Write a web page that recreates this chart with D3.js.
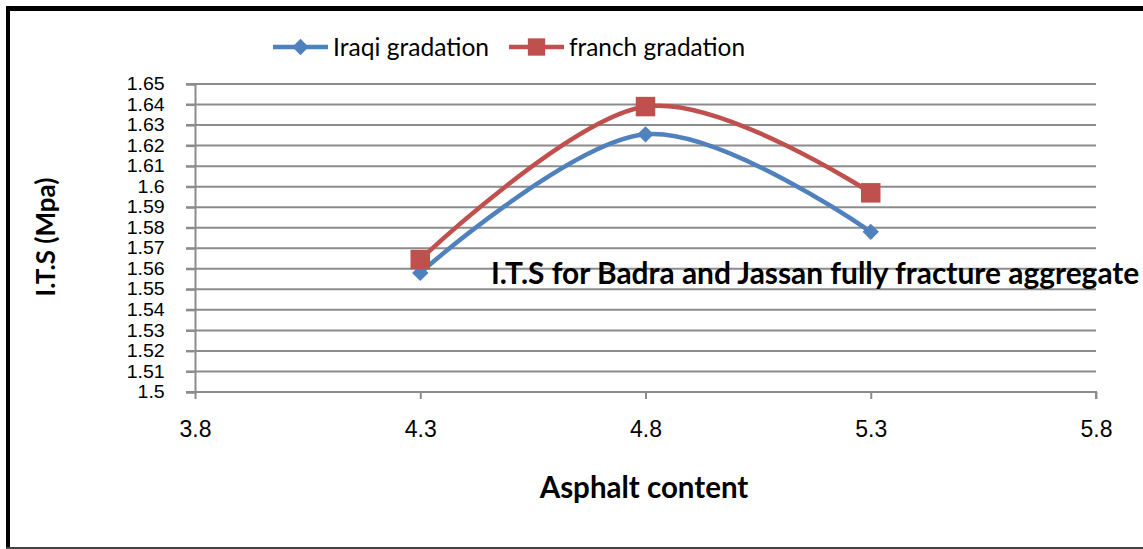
<!DOCTYPE html>
<html>
<head>
<meta charset="utf-8">
<script src="https://cdnjs.cloudflare.com/ajax/libs/d3/7.8.5/d3.min.js"></script>
<style>
  body { margin: 0; background: #fff; }
</style>
</head>
<body>
<div id="chart"></div>
<script>
// data
var asphalt = [4.3, 4.8, 5.3];
var iraqi = [1.558, 1.6255, 1.578];
var franch = [1.5645, 1.639, 1.597];
var xTicks = [3.8, 4.3, 4.8, 5.3, 5.8];
var yTicks = [1.5, 1.51, 1.52, 1.53, 1.54, 1.55, 1.56, 1.57, 1.58, 1.59, 1.6, 1.61, 1.62, 1.63, 1.64, 1.65];
var seriesNames = ["Iraqi gradation", "franch gradation"];

var width = 1143, height = 549;
var blue = "#4f81bd", red = "#c0504d", grid = "#8c8c8c";
var textFont = "Lato, Open Sans, sans-serif";

var svg = d3.select("#chart").append("svg")
    .attr("width", width)
    .attr("height", height);

// shrink or grow a text so it spans about w pixels
function fitWidth(sel, w) {
    sel.each(function () {
        var len = this.getComputedTextLength();
        var fs = parseFloat(d3.select(this).attr("font-size"));
        d3.select(this).attr("font-size", (fs * w / len).toFixed(1) + "px");
    });
}

// outer frame
svg.append("line").attr("x1", 6).attr("x2", width).attr("y1", 8.5).attr("y2", 8.5)
    .attr("stroke", "#000").attr("stroke-width", 5);
svg.append("line").attr("x1", 8).attr("x2", 8).attr("y1", 6).attr("y2", height)
    .attr("stroke", "#000").attr("stroke-width", 4);
svg.append("line").attr("x1", 6).attr("x2", width).attr("y1", 548).attr("y2", 548)
    .attr("stroke", "#444").attr("stroke-width", 2);

var x = d3.scaleLinear().domain([3.8, 5.8]).range([195, 1096]);
var y = d3.scaleLinear().domain([1.5, 1.65]).range([392, 84]);

// horizontal gridlines
svg.append("g")
    .selectAll("line")
    .data(yTicks)
    .enter()
    .append("line")
    .attr("x1", 186)
    .attr("x2", x(5.8))
    .attr("y1", function (d) { return y(d); })
    .attr("y2", function (d) { return y(d); })
    .attr("stroke", grid)
    .attr("stroke-width", 2);

// y axis
var yAxis = svg.append("g")
    .attr("transform", "translate(" + x(3.8) + ",0)")
    .call(d3.axisLeft(y).tickValues(yTicks).tickSize(9).tickPadding(18)
        .tickFormat(function (d) { return String(+d.toFixed(2)); }));
yAxis.select(".domain").attr("stroke", grid).attr("stroke-width", 2);
yAxis.selectAll(".tick line").attr("stroke", grid).attr("stroke-width", 2);
yAxis.selectAll("text")
    .attr("font-family", "Liberation Sans, Arial, sans-serif")
    .attr("font-size", "17.5px")
    .attr("transform", "scale(1.12,1)")
    .attr("fill", "#000");

// x axis
var xAxis = svg.append("g")
    .attr("transform", "translate(0," + y(1.5) + ")")
    .call(d3.axisBottom(x).tickValues(xTicks).tickSize(7).tickPadding(22)
        .tickFormat(d3.format(".1f")));
xAxis.select(".domain").attr("stroke", grid).attr("stroke-width", 2).attr("d", "M" + x(3.8) + ",0H" + x(5.8) + "V7");
xAxis.selectAll(".tick line").attr("stroke", grid).attr("stroke-width", 2);
xAxis.selectAll("text")
    .attr("font-family", "Liberation Sans, Arial, sans-serif")
    .attr("font-size", "23px")
    .attr("fill", "#000");

// lines
var line = d3.line()
    .x(function (d, i) { return x(asphalt[i]); })
    .y(function (d) { return y(d); })
    .curve(d3.curveCardinal.tension(0));

svg.append("path").datum(iraqi)
    .attr("d", line).attr("fill", "none")
    .attr("stroke", blue).attr("stroke-width", 4.5);
svg.append("path").datum(franch)
    .attr("d", line).attr("fill", "none")
    .attr("stroke", red).attr("stroke-width", 4.5);

// markers
var diamond = d3.symbol().type(d3.symbolDiamond2).size(170);
var square = d3.symbol().type(d3.symbolSquare).size(380);

svg.append("g").selectAll("path")
    .data(iraqi).enter().append("path")
    .attr("d", diamond)
    .attr("transform", function (d, i) { return "translate(" + x(asphalt[i]) + "," + y(d) + ")"; })
    .attr("fill", blue);
svg.append("g").selectAll("path")
    .data(franch).enter().append("path")
    .attr("d", square)
    .attr("transform", function (d, i) { return "translate(" + x(asphalt[i]) + "," + y(d) + ")"; })
    .attr("fill", red);

// legend
var legend = [
    {name: seriesNames[0], color: blue, sym: diamond, x: 273, w: 156},
    {name: seriesNames[1], color: red, sym: d3.symbol().type(d3.symbolSquare).size(300), x: 509, w: 176}
];
var lg = svg.append("g").selectAll("g")
    .data(legend).enter().append("g")
    .attr("transform", function (d) { return "translate(" + d.x + ",47)"; });
lg.append("line").attr("x1", 0).attr("x2", 55).attr("y1", 0).attr("y2", 0)
    .attr("stroke", function (d) { return d.color; }).attr("stroke-width", 4.5);
lg.append("path").attr("d", function (d) { return d.sym(); })
    .attr("transform", "translate(27.5,0)")
    .attr("fill", function (d) { return d.color; });
lg.append("text")
    .attr("x", 60)
    .attr("dy", "0.35em")
    .attr("font-family", textFont)
    .attr("font-size", "20px")
    .attr("fill", "#000")
    .text(function (d) { return d.name; })
    .each(function (d) { fitWidth(d3.select(this), d.w); });

// chart note in the plot
svg.append("text")
    .attr("x", 491)
    .attr("y", 284)
    .attr("font-family", textFont)
    .attr("font-weight", "bold")
    .attr("font-size", "24px")
    .attr("fill", "#000")
    .text("I.T.S for Badra and Jassan fully fracture aggregate")
    .call(fitWidth, 648);

// axis titles
svg.append("text")
    .attr("transform", "translate(55,237) rotate(-90)")
    .attr("text-anchor", "middle")
    .attr("font-family", textFont)
    .attr("font-weight", "bold")
    .attr("font-size", "18px")
    .attr("fill", "#000")
    .text("I.T.S (Mpa)")
    .call(fitWidth, 119);

svg.append("text")
    .attr("x", 644)
    .attr("y", 498)
    .attr("text-anchor", "middle")
    .attr("font-family", textFont)
    .attr("font-weight", "bold")
    .attr("font-size", "24px")
    .attr("fill", "#000")
    .text("Asphalt content")
    .call(fitWidth, 209);
</script>
</body>
</html>
